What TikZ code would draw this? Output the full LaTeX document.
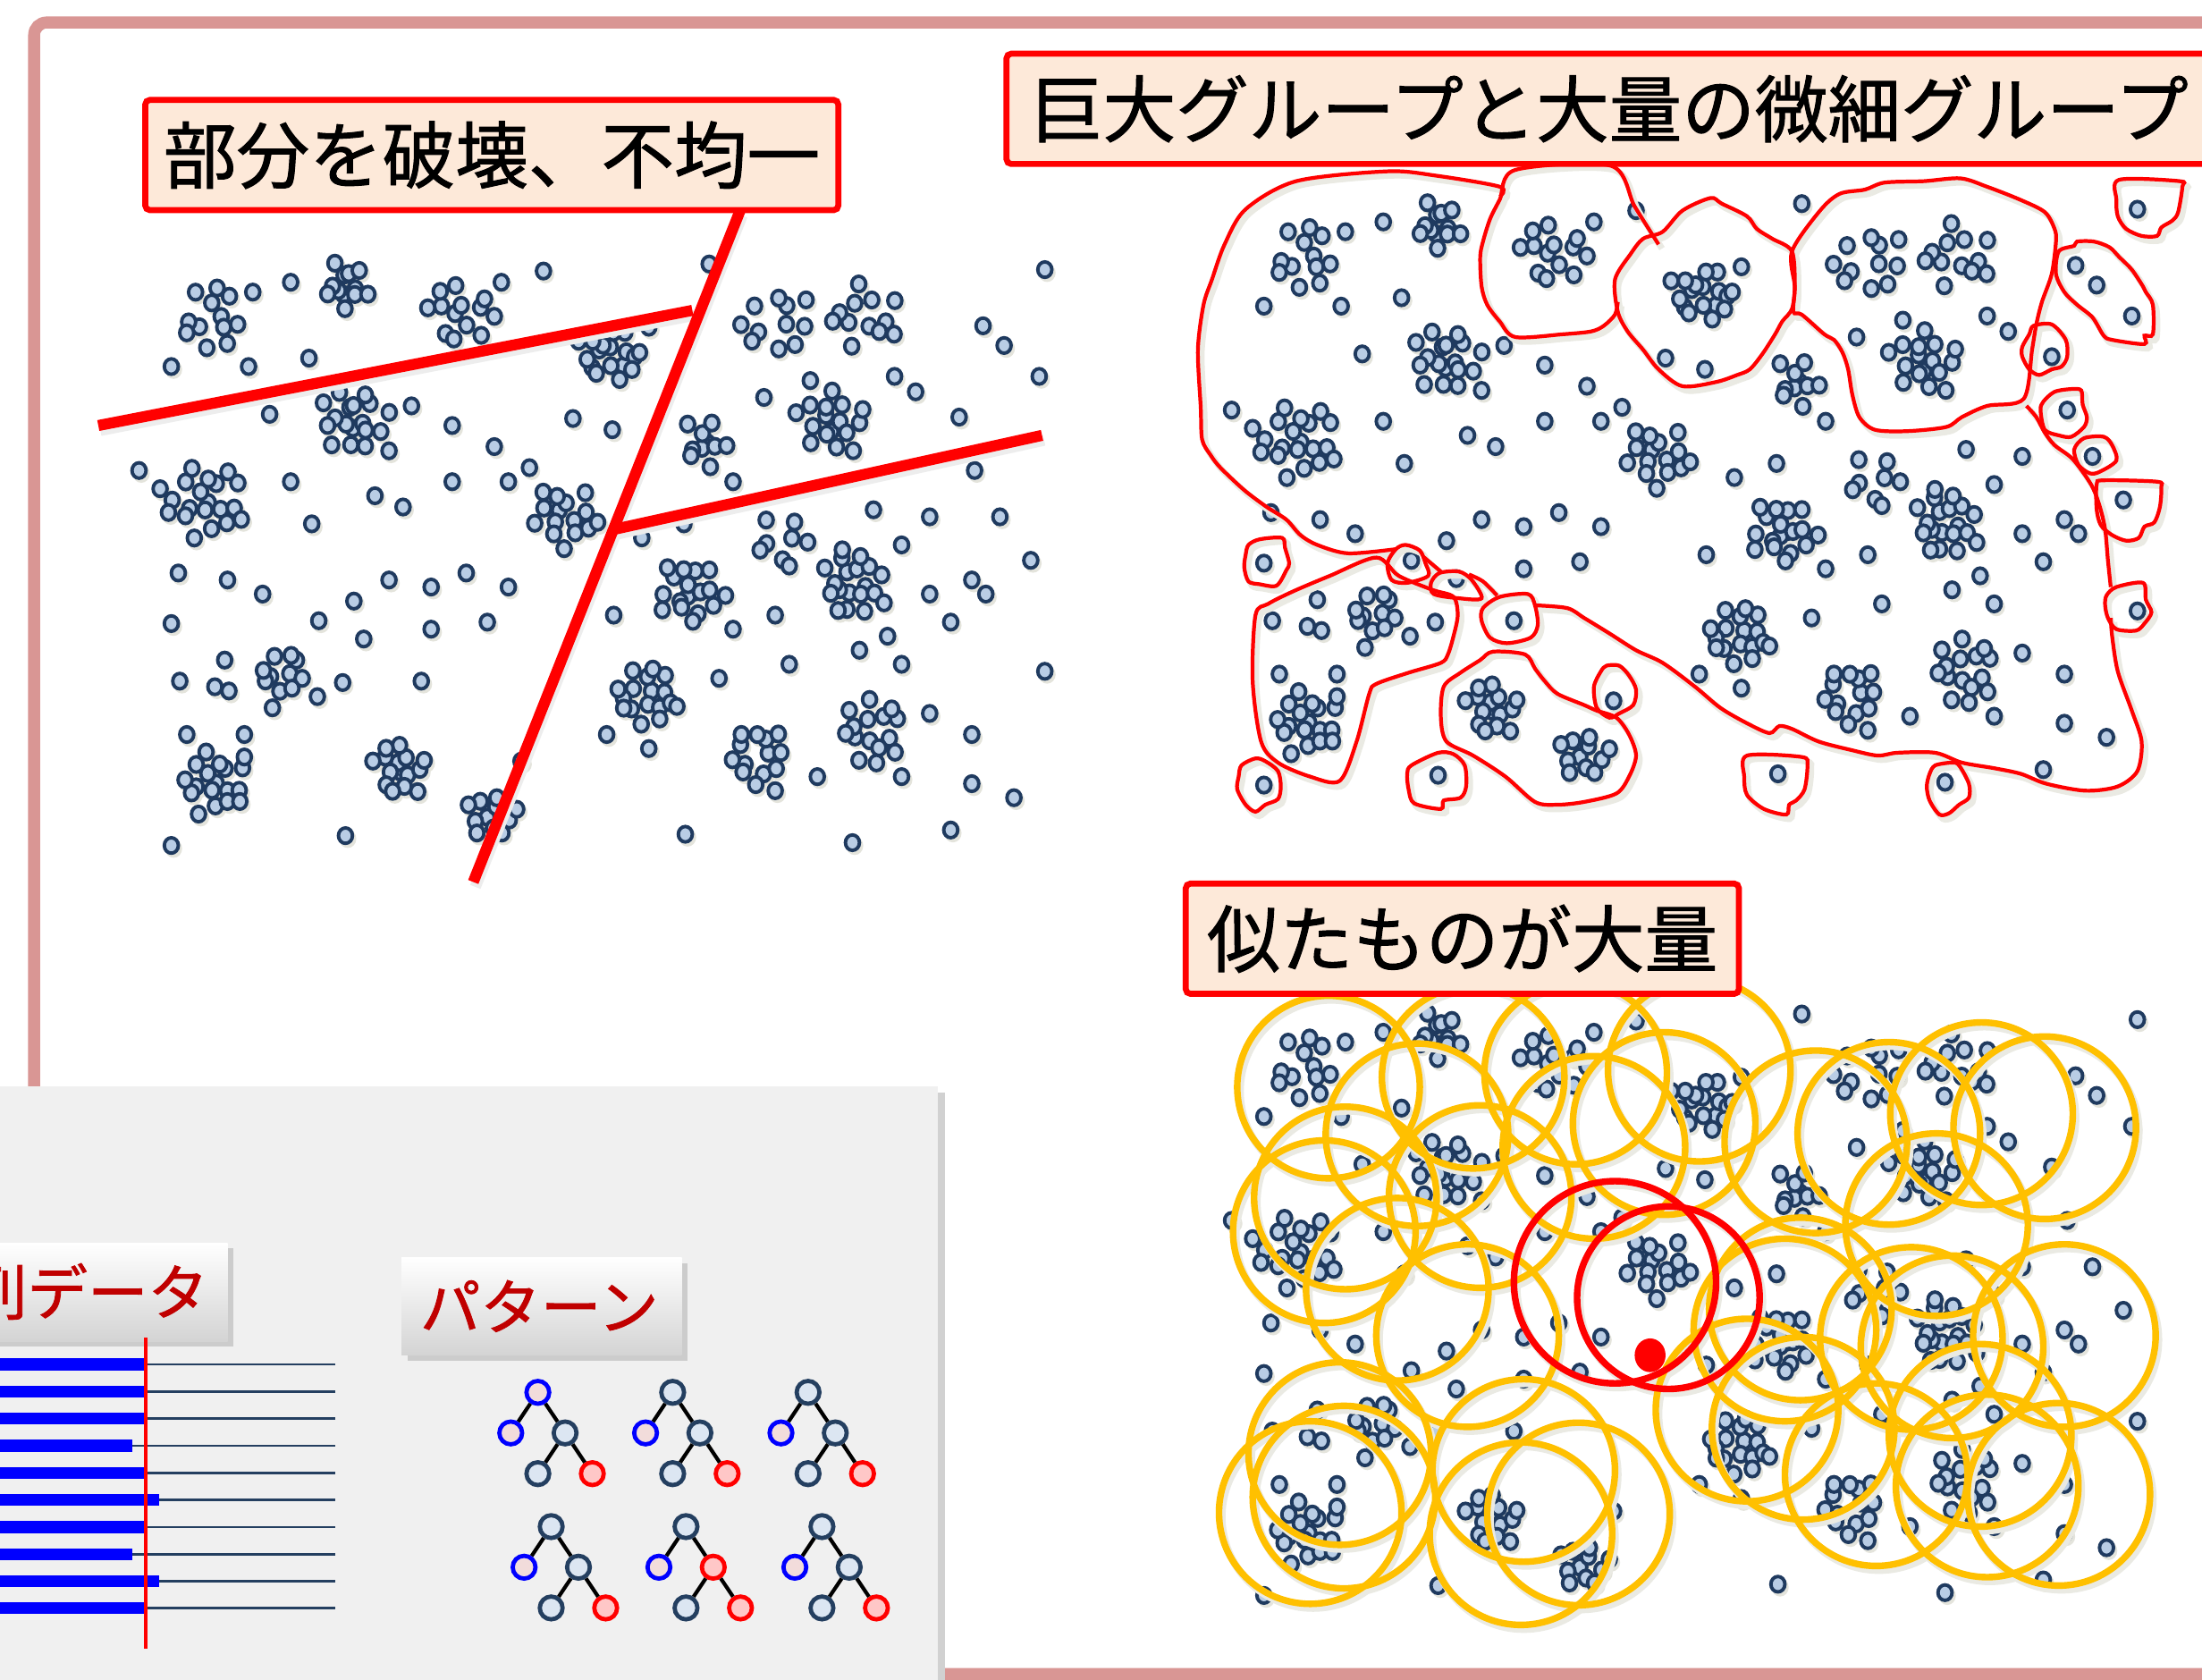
\documentclass[tikz,border=0pt]{standalone}
\usepackage{fontspec}
\newfontfamily\jp{Noto Sans CJK JP}[FakeBold=1.2]
\definecolor{framepink}{HTML}{D99694}
\definecolor{labelfill}{HTML}{FDE9D9}
\definecolor{dotfill}{HTML}{B9CDE5}
\definecolor{dotline}{HTML}{1F3A5F}
\definecolor{dotshade}{HTML}{E4E4DC}
\definecolor{orng}{HTML}{FFC000}
\definecolor{panelgray}{HTML}{F0F0F0}
\definecolor{labelred}{HTML}{C00000}
\definecolor{ringshade}{HTML}{EAEAE3}
\definecolor{treeblue}{HTML}{0000FF}
\definecolor{treepink}{HTML}{F2DCDB}
\definecolor{treedark}{HTML}{243F60}
\definecolor{treelight}{HTML}{DCE6F2}
\definecolor{treered}{HTML}{FF0000}
\definecolor{treerose}{HTML}{FFC7C7}
\definecolor{serieline}{HTML}{243F60}
\tikzset{
  framestyle/.style={draw=framepink, line width=3.8pt, rounded corners=4pt},
  dotstyle/.style={fill=dotfill, draw=dotline, line width=1.1pt},
  dotshadow/.style={fill=dotshade},
  labelbox/.style={draw=red, fill=labelfill, line width=1.9pt, rounded corners=1.5pt, minimum height=1.233cm, inner sep=0pt},
  labeltext/.style={font=\jp\fontsize{23.2}{28}\selectfont, inner sep=0pt},
  cutline/.style={draw=red, line width=3.5pt},
  cutshadow/.style={draw=black!7, line width=3.5pt},
  blob/.style={draw=red, line width=1.2pt},
  blobshadow/.style={draw=ringshade, line width=2pt},
  ring/.style={draw=orng, line width=2.1pt},
  ringshadow/.style={draw=ringshade, line width=2.4pt},
  redring/.style={draw=red, line width=2.1pt},
  graybox/.style={top color=white, bottom color=black!17, draw=none, inner sep=0pt},
  grayshadow/.style={fill=black!20},
  graytext/.style={font=\jp\fontsize{19.2}{23}\selectfont, text=labelred, inner sep=0pt},
  bar/.style={fill=blue},
  thinline/.style={draw=serieline, line width=0.8pt},
  tnode/.style={circle, minimum size=0.255cm, inner sep=0pt, line width=1.35pt},
  tedge/.style={draw=black, line width=1.2pt},
}
\newcommand\shadowdot[2]{\fill[dotshadow] (#1+1.6,#2+2.2) ellipse[x radius=6.1, y radius=6.6];}
\newcommand\maindot[2]{\draw[dotstyle] (#1,#2) ellipse[x radius=5.0, y radius=5.5];}
\newcommand\alldots[1]{%
  \foreach \cx/\cy/\cn/\cs in {928/183/12/26, 1025/160/12/18, 1105/180/13/24, 1215/210/16/20,
     1330/188/11/26, 1395/182/12/24, 1030/255/17/24, 1280/272/10/18, 1370/258/16/24,
     925/315/19/27, 1180/325/15/22, 1270/378/18/23, 1385/372/19/26, 980/436/10/18,
     1238/452/16/24, 1318/495/13/22, 1400/478/15/26, 930/515/17/22, 1063/505/15/20,
     1128/537/11/17, 1335/340/7/18}{%
    \foreach \k in {1,...,\cn}{%
      \pgfmathsetmacro\rr{\cs*sqrt((\k-0.5)/\cn)}%
      \pgfmathsetmacro\aa{\k*137.508+\cx}%
      \pgfmathsetmacro\px{\cx+\rr*cos(\aa)+3*sin(\k*211+\cy*7)}%
      \pgfmathsetmacro\py{\cy+\rr*sin(\aa)+3*cos(\k*173+\cx*3)}%
      #1{\px}{\py}%
    }%
  }%
  \foreach \px/\py in {985/158, 958/165, 1135/158, 1165/150, 1240/190, 1190/200, 1283/145, 1522/149,
     900/218, 955/218, 998/212, 970/252, 1071/246, 1055/278, 1100/260, 1130/275, 1186/255, 1214/263,
     1322/240, 1355/228, 1415/225, 1430/236, 1478/189, 1493/203, 1518/225, 1461/254,
     877/292, 892/305, 985/300, 1000/330, 1045/310, 1065/318, 1100/300, 1140/300, 1155/290,
     1235/340, 1265/330, 1300/300, 1472/292, 1490/325, 1400/320, 1440/325, 1420/345,
     905/365, 940/370, 965/380, 1030/385, 1055/370, 1085/375, 1110/365, 1140/375, 1340/360,
     1330/395, 1440/380, 1470/370, 1512/356, 900/401, 1005/399, 1037/412, 1085/405, 1125/400,
     1215/395, 1300/405, 1410/410, 1455/400, 1480/380, 906/442, 931/446, 941/449, 911/480,
     952/480, 972/461, 1022/443, 1004/453, 938/427, 952/496, 1078/442, 1260/460, 1290/440,
     1340/430, 1390/420, 1420/430, 1522/435, 1440/465, 1470/480, 1149/499, 900/559, 1024/552,
     1266/551, 1385/557, 1455/548, 1210/480, 1240/490, 1330/520, 1360/510, 1420/510, 1470/515,
     1500/525}{#1{\px}{\py}}%
}
\newcommand\blobpaths[1]{%
  \draw[#1] plot[smooth, tension=0.5] coordinates {(1068,140) (1068,133) (1022,125) (988,122) (923,129) (887,149) (872,174) (863,199) (857,217) (853,249) (855,290) (856,313) (862,324) (869,333) (886,349) (902,361) (916,370) (926,381) (938,388) (960,394) (994,391)};
  \draw[#1] (1013,396) -- (1026,407);
  \draw[#1] plot[smooth, tension=0.5] coordinates {(1046,409) (1056,414) (1066,424)};
  \draw[#1] plot[smooth, tension=0.5] coordinates {(1093,431) (1116,433) (1128,440) (1146,451) (1165,463) (1184,472) (1207,489) (1225,504) (1244,515) (1260,522) (1267,517) (1276,519) (1295,528) (1318,534) (1337,538) (1351,536) (1378,536) (1397,543) (1420,547) (1439,551) (1457,558) (1485,563) (1508,560) (1522,549) (1525,528) (1518,506) (1508,478) (1504,453) (1503,440)};
  \draw[#1] plot[smooth, tension=0.5] coordinates {(1503,418) (1501,399) (1499,377) (1495,360) (1489,345) (1476,327) (1463,317) (1456,308) (1450,297) (1443,289)};
  \draw[#1] plot[smooth, tension=0.5] coordinates {(1181,174) (1164,147) (1147,118) (1079,121) (1068,142) (1061,156) (1056,172) (1054,183) (1055,204) (1059,217) (1068,229) (1079,240) (1113,238) (1133,236) (1142,232) (1150,224) (1152,215)};
  \draw[#1] plot[smooth cycle, tension=0.5] coordinates {(1218,141) (1226,145) (1244,154) (1251,163) (1262,170) (1276,179) (1278,204) (1276,220) (1269,229) (1264,238) (1255,252) (1246,263) (1237,267) (1222,272) (1198,275) (1181,263) (1170,249) (1159,236) (1152,222) (1150,199) (1161,181) (1170,170) (1184,165) (1198,150)};
  \draw[#1] plot[smooth cycle, tension=0.5] coordinates {(1276,179) (1296,150) (1310,138) (1328,135) (1342,130) (1370,129) (1396,127) (1415,133) (1438,142) (1456,151) (1463,163) (1464,172) (1461,195) (1454,215) (1450,231) (1447,249) (1441,284) (1415,289) (1397,297) (1386,304) (1358,307) (1335,306) (1324,297) (1319,281) (1316,263) (1312,251) (1306,242) (1299,238) (1283,224) (1277,222) (1278,204)};
  \draw[#1] plot[smooth cycle, tension=0.5] coordinates {(903,430) (921,421) (947,410) (980,397) (996,410) (1020,420) (1035,425) (1038,438) (1035,453) (1031,466) (1026,472) (1003,479) (980,487) (975,494) (966,528) (954,556) (933,553) (910,543) (898,528) (892,485) (894,438)};
  \draw[#1] plot[smooth cycle, tension=0.5] coordinates {(1063,464) (1086,466) (1093,476) (1100,485) (1109,494) (1128,502) (1137,506) (1151,511) (1160,523) (1165,538) (1160,553) (1151,565) (1128,571) (1109,573) (1093,571) (1072,553) (1049,538) (1030,528) (1026,511) (1028,489) (1040,479) (1054,470)};
  \draw[#1] plot[smooth cycle, tension=0.5] coordinates {(1509,128) (1552,129) (1554,133) (1551,151) (1547,157) (1539,162) (1536,168) (1525,168) (1514,163) (1508,154) (1507,142)};
  \draw[#1] plot[smooth cycle, tension=0.5] coordinates {(1466,179) (1477,175) (1479,172) (1491,172) (1502,176) (1509,183) (1518,192) (1526,204) (1528,208) (1533,217) (1533,238) (1527,239) (1527,245) (1504,242) (1498,239) (1490,226) (1479,217) (1470,208) (1464,195)};
  \draw[#1] plot[smooth cycle, tension=0.5] coordinates {(1448,232) (1461,231) (1471,242) (1472,254) (1468,261) (1461,263) (1452,267) (1445,263) (1440,254) (1440,247) (1445,238)};
  \draw[#1] plot[smooth cycle, tension=0.5] coordinates {(1455,286) (1463,279) (1475,277) (1482,278) (1483,288) (1486,297) (1484,304) (1475,311) (1466,310) (1456,306) (1453,292)};
  \draw[#1] plot[smooth cycle, tension=0.5] coordinates {(1477,320) (1484,312) (1498,311) (1504,317) (1507,328) (1495,336) (1488,337) (1480,331)};
  \draw[#1] plot[smooth cycle, tension=0.5] coordinates {(1493,345) (1498,342) (1536,343) (1539,347) (1538,361) (1534,372) (1527,375) (1523,383) (1514,385) (1504,381) (1496,374) (1493,363)};
  \draw[#1] plot[smooth cycle, tension=0.5] coordinates {(1500,424) (1507,418) (1526,415) (1528,427) (1532,436) (1527,444) (1521,449) (1507,448) (1501,440) (1499,431)};
  \draw[#1] plot[smooth cycle, tension=0.5] coordinates {(889,388) (897,384) (913,383) (915,390) (918,401) (916,406) (909,417) (897,416) (889,414) (886,404) (887,395)};
  \draw[#1] plot[smooth cycle, tension=0.5] coordinates {(994,391) (1001,388) (1011,392) (1015,401) (1017,410) (1002,415) (991,413) (988,401)};
  \draw[#1] plot[smooth cycle, tension=0.5] coordinates {(1025,408) (1039,407) (1048,413) (1055,426) (1039,426) (1021,423) (1019,415)};
  \draw[#1] plot[smooth cycle, tension=0.5] coordinates {(1056,433) (1068,425) (1088,423) (1093,431) (1095,445) (1090,454) (1073,458) (1061,454) (1055,442)};
  \draw[#1] plot[smooth cycle, tension=0.5] coordinates {(1144,474) (1153,474) (1160,481) (1165,491) (1163,502) (1153,508) (1146,511) (1137,504) (1135,489) (1140,478)};
  \draw[#1] plot[smooth cycle, tension=0.5] coordinates {(884,545) (894,540) (901,542) (910,549) (912,560) (910,569) (901,573) (894,578) (887,573) (881,562) (882,553)};
  \draw[#1] plot[smooth cycle, tension=0.5] coordinates {(1005,545) (1024,536) (1035,537) (1043,545) (1044,560) (1040,568) (1028,570) (1026,576) (1007,572) (1003,562) (1002,551)};
  \draw[#1] plot[smooth cycle, tension=0.5] coordinates {(1244,538) (1283,539) (1287,545) (1285,562) (1279,570) (1274,573) (1272,580) (1256,576) (1244,566) (1242,553)};
  \draw[#1] plot[smooth cycle, tension=0.5] coordinates {(1378,545) (1390,543) (1395,545) (1402,558) (1402,568) (1395,573) (1388,579) (1381,580) (1374,570) (1372,560) (1374,551)};
}
\newcommand\ringlist{946/774, 1049/767, 1122/764, 1210/762, 1185/800, 1293/813, 1345/807, 1411/793, 1456/803, 1379/872, 1009/808, 958/853, 943/877, 1054/852, 1135/817, 995/918, 1045/951, 1271/947, 1282/932, 1361/953, 1390/959, 1470/951, 1244/1004, 1284/1017, 954/1035, 933/1077, 957/1066, 1085/1047, 1124/1078, 1083/1092, 1336/1050, 1415/1058, 1466/1064, 1410/1022}
\begin{document}
\begin{tikzpicture}[x=0.015708cm, y=-0.015708cm]
\useasboundingbox (0,0) rectangle (1568,1196);
\clip (0,0) rectangle (1568,1196);
\fill[white] (0,0) rectangle (1568,1196);
\draw[framestyle] (24.3,16) rectangle (1650,1192);

% ---------- top left: cut lines ----------
\begin{scope}[shift={(-778,43)}]
  \alldots{\shadowdot}
  \alldots{\maindot}
\end{scope}
\draw[cutshadow] (71.5,306.5) -- (494.5,224.5);
\draw[cutshadow] (528.5,153.5) -- (338.5,631.5);
\draw[cutshadow] (438.5,380.5) -- (743.5,313.5);
\draw[cutline] (70,303) -- (493,221);
\draw[cutline] (527,150) -- (337,628);
\draw[cutline] (437,377) -- (742,310);
\node[labelbox, labeltext, minimum width=7.749cm] (box1) at (350.2,110.4) {部分を破壊、不均一};

% ---------- top right: groups ----------
\alldots{\shadowdot}
\alldots{\maindot}
\begin{scope}[shift={(2.5,3)}]
  \blobpaths{blobshadow}
\end{scope}
\blobpaths{blob}
\node[labelbox, minimum width=13.87cm] (box2) at (1158.4,77.5) {};
\node[labeltext, anchor=west] (text2) at (733,77.5) {巨大グループと大量の微細グループ};

% ---------- bottom right: similar ----------
\begin{scope}[shift={(0,577)}]
  \alldots{\shadowdot}
  \alldots{\maindot}
\end{scope}
\foreach \x/\y in \ringlist {\draw[ringshadow] (\x+2,\y+3) circle[radius=65];}
\draw[ringshadow] (1152,916) circle[radius=72];
\draw[ringshadow] (1190,927) circle[radius=65];
\foreach \x/\y in \ringlist {\draw[ring] (\x,\y) circle[radius=65];}
\draw[redring] (1150,913) circle[radius=72];
\draw[redring] (1188,924) circle[radius=65];
\fill[red] (1175,965) ellipse[x radius=11, y radius=12];
\node[labelbox, labeltext, minimum width=6.184cm] (box3) at (1041.3,668.4) {似たものが大量};

% ---------- bottom left panel ----------
\fill[black!18] (-10,778) rectangle (673,1210);
\fill[panelgray] (-10,773.5) rectangle (668,1210);
\fill[grayshadow] (-6,889) rectangle (166,959);
\node[graybox, minimum width=2.702cm, minimum height=1.0996cm] (lab1) at (76,920) {};
\node[graytext, anchor=west] (lab1t) at (-24,919.6) {列データ};
\fill[grayshadow] (290,899.4) rectangle (489.4,969.1);
\node[graybox, minimum width=3.132cm, minimum height=1.095cm] (lab2) at (385.7,930.2) {};
\node[graytext] (lab2t) at (384,930) {パターン};

\foreach \j/\e in {0/103,1/103,2/103,3/94,4/103,5/113.5,6/103,7/94,8/113.5,9/103}{
  \pgfmathsetmacro\yy{971.5+19.3*\j}
  \fill[bar] (-20,\yy-4.2) rectangle (\e,\yy+4.2);
  \draw[thinline] (\e,\yy) -- (238.7,\yy);
}
\draw[red, line width=1.1pt] (104,952.7) -- (104,1173.8);

\foreach \i/\x/\y/\rd/\rf/\md/\mf in {1/383/991.4/treeblue/treepink/treedark/treelight,
    2/479/991.4/treedark/treelight/treedark/treelight,
    3/575.4/991.4/treedark/treelight/treedark/treelight,
    4/392.5/1087/treedark/treelight/treedark/treelight,
    5/488.5/1087/treedark/treelight/treered/treerose,
    6/585.3/1087/treedark/treelight/treedark/treelight}{
  \node[tnode, draw=\rd, fill=\rf] (r\i) at (\x,\y) {};
  \node[tnode, draw=treeblue, fill=treepink] (l\i) at (\x-19.3,\y+28.9) {};
  \node[tnode, draw=\md, fill=\mf] (m\i) at (\x+19.4,\y+28.9) {};
  \node[tnode, draw=treedark, fill=treelight] (a\i) at (\x,\y+57.9) {};
  \node[tnode, draw=treered, fill=treerose] (b\i) at (\x+38.8,\y+57.9) {};
  \draw[tedge] (r\i) -- (l\i);
  \draw[tedge] (r\i) -- (m\i);
  \draw[tedge] (m\i) -- (a\i);
  \draw[tedge] (m\i) -- (b\i);
}
\end{tikzpicture}
\end{document}
